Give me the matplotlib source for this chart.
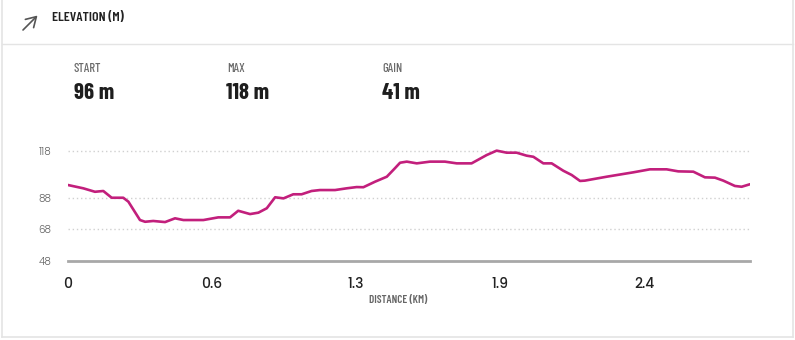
import matplotlib
matplotlib.use("Agg")
import matplotlib.pyplot as plt
from matplotlib.patches import FancyArrowPatch
from matplotlib.lines import Line2D

# ---- data ----
distance_km = [0.000, 0.066, 0.116, 0.152, 0.188, 0.238, 0.260, 0.310, 0.332, 0.367,
               0.418, 0.461, 0.497, 0.583, 0.647, 0.698, 0.733, 0.784, 0.820, 0.856,
               0.892, 0.928, 0.970, 1.006, 1.049, 1.085, 1.150, 1.200, 1.243, 1.272,
               1.322, 1.373, 1.408, 1.430, 1.459, 1.502, 1.559, 1.623, 1.674, 1.738,
               1.803, 1.846, 1.889, 1.932, 1.975, 2.004, 2.047, 2.083, 2.133, 2.169,
               2.205, 2.226, 2.320, 2.435, 2.506, 2.578, 2.628, 2.693, 2.743, 2.786,
               2.822, 2.872, 2.901, 2.937]
elevation_m = [96.2, 94.1, 91.9, 92.4, 88.1, 88.1, 85.6, 73.9, 72.8, 73.3,
               72.6, 75.0, 73.9, 73.9, 75.6, 75.6, 79.8, 77.7, 78.6, 81.4,
               88.4, 87.7, 90.3, 90.3, 92.4, 93.0, 93.0, 94.1, 94.9, 94.8,
               98.3, 101.5, 106.9, 110.4, 111.1, 110.0, 111.1, 111.1, 110.0, 110.0,
               115.3, 118.1, 116.8, 116.8, 114.9, 114.2, 110.0, 110.0, 105.3, 102.6,
               98.8, 99.0, 101.5, 104.3, 106.2, 106.2, 104.9, 104.7, 101.1, 100.9,
               99.0, 95.6, 95.1, 96.7]
x_tick_positions = [0.0, 0.62, 1.24, 1.86, 2.48]
x_tick_labels = ["0", "0.6", "1.3", "1.9", "2.4"]
y_ticks = [48, 68, 88, 118]
stat_labels = ["START", "MAX", "GAIN"]
stat_values = ["96 m", "118 m", "41 m"]

W, H = 795, 340
fig = plt.figure(figsize=(W / 100, H / 100), dpi=100)
fig.patch.set_facecolor("white")

COND = ["Barlow Condensed", "DejaVu Sans"]
POP = ["Poppins", "DejaVu Sans"]

def fx(px):
    return px / W

def fy(py):
    return 1 - py / H

# card border + header separator
border = "#e4e4e4"
fig.add_artist(Line2D([fx(1.5), fx(1.5)], [fy(0), fy(337)], color=border, lw=1.2))
fig.add_artist(Line2D([fx(793), fx(793)], [fy(0), fy(337)], color=border, lw=1.2))
fig.add_artist(Line2D([fx(1.5), fx(793)], [fy(337), fy(337)], color=border, lw=1.2))
fig.add_artist(Line2D([fx(1.5), fx(793)], [fy(43.5), fy(43.5)], color=border, lw=1.0))

# header arrow icon
fig.add_artist(FancyArrowPatch((fx(23), fy(30)), (fx(37.5), fy(15.5)),
                               transform=fig.transFigure,
                               arrowstyle="->,head_length=5,head_width=3",
                               color="#555555", lw=1.2, mutation_scale=1.4,
                               shrinkA=0, shrinkB=0))
fig.text(fx(52), fy(18.5), "ELEVATION (M)", fontsize=10, fontweight=600,
         family=COND, color="#222222", va="center", ha="left")

# stats
stat_x = [74, 227, 382]
for sx, lab, val in zip(stat_x, stat_labels, stat_values):
    fig.text(fx(sx), fy(69.5), lab, fontsize=9, fontweight=500, family=COND,
             color="#6a6a6a", va="center", ha="left")
    fig.text(fx(sx - 0.5), fy(93), val, fontsize=16.5, fontweight="bold", family=COND,
             color="#1e1e1e", va="center", ha="left")

# chart axes
ymin, ymax = 48, 125
px_per_m = 1.57
bottom_px = 260.7
top_px = bottom_px - (ymax - ymin) * px_per_m
ax = fig.add_axes([fx(68), fy(bottom_px), fx(750) - fx(68), (bottom_px - top_px) / H])
ax.set_facecolor("none")
ax.plot(distance_km, elevation_m, color="#c21f7c", lw=1.9, solid_joinstyle="round",
        solid_capstyle="round", zorder=3)
ax.set_xlim(0, distance_km[-1])
ax.set_ylim(ymin, ymax)
for s in ax.spines.values():
    s.set_visible(False)
for yv in y_ticks[1:]:
    ax.axhline(yv, color="#d0d0d0", lw=1.0, ls=(0, (1, 2)), zorder=1)
ax.axhline(48, color="#a8a8a8", lw=2.0, zorder=2, clip_on=False)

ax.set_yticks(y_ticks)
ax.set_yticklabels([str(v) for v in y_ticks], fontsize=7.5, color="#666666",
                   family=POP, fontweight=300)
ax.tick_params(axis="y", length=0, pad=12)
ax.set_xticks(x_tick_positions)
ax.set_xticklabels(x_tick_labels, fontsize=10, color="#222222", fontweight=500,
                   family=POP)
ax.tick_params(axis="x", length=0, pad=12)

fig.text(fx(398), fy(300), "DISTANCE (KM)", fontsize=8, fontweight=600, family=COND,
         color="#666666", ha="center", va="center")

fig.savefig("out.png", dpi=100, facecolor="white")
